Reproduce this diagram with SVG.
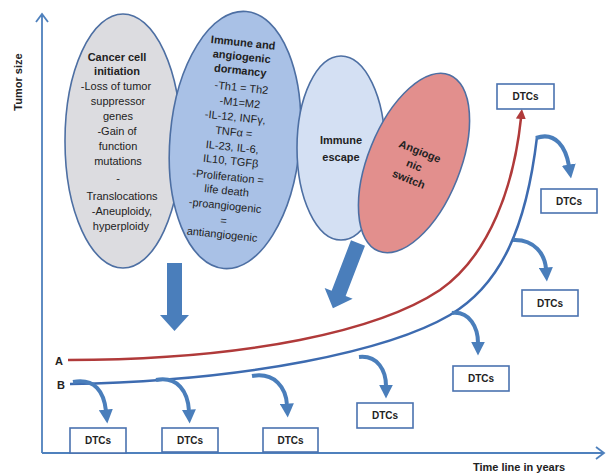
<svg xmlns="http://www.w3.org/2000/svg" width="608" height="474" viewBox="0 0 608 474">
<defs>
<style>
.t{font-family:"Liberation Sans",Arial,sans-serif;font-size:11px;fill:#222;text-anchor:middle}
.b{font-weight:bold}
.ell{stroke:#4d6fa3;stroke-width:1.6}
.box{fill:#fff;stroke:#4a72b0;stroke-width:1.6}
.bt{font-family:"Liberation Sans",Arial,sans-serif;font-size:10px;font-weight:bold;fill:#222;text-anchor:middle}
.dtc{fill:none;stroke:#4a7ebb;stroke-width:4}
.axis{fill:none;stroke:#4f81bd;stroke-width:1.8}
</style>
<marker id="ah" viewBox="0 0 10 10" refX="1" refY="5" markerWidth="3.5" markerHeight="3.5" orient="auto" markerUnits="strokeWidth">
<path d="M0,0 L10,5 L0,10 z" fill="#4a7ebb"/>
</marker>
<marker id="ahr" viewBox="0 0 10 10" refX="1" refY="5" markerWidth="4" markerHeight="4" orient="auto" markerUnits="strokeWidth">
<path d="M0,0 L10,5 L0,10 z" fill="#b03a3a"/>
</marker>
</defs>
<rect width="608" height="474" fill="#fff"/>

<g id="axes">
<path class="axis" d="M42,453 L42,14 M36,22 L42,14 L48,22"/>
<path class="axis" d="M42,453 L604,453 M596,447 L604,453 L596,459"/>
<text class="t b" transform="translate(22,82) rotate(-90)" font-size="11.5">Tumor size</text>
<text class="t b" x="519" y="471" font-size="13.5">Time line in years</text>
</g>

<g id="cancer-cell-initiation">
<ellipse class="ell" cx="123" cy="141" rx="58" ry="127" fill="#dcdce0"/>
<text class="t"><tspan class="b" x="117" y="61">Cancer cell</tspan><tspan class="b" x="117" y="75">initiation</tspan><tspan x="116" y="90">-Loss of tumor</tspan><tspan x="118" y="105">suppressor</tspan><tspan x="118" y="120">genes</tspan><tspan x="117" y="135">-Gain of</tspan><tspan x="118" y="150">function</tspan><tspan x="118" y="165">mutations</tspan><tspan x="118" y="182">-</tspan><tspan x="122" y="200">Translocations</tspan><tspan x="122" y="215">-Aneuploidy,</tspan><tspan x="121" y="230">hyperploidy</tspan></text>
</g>

<g id="dormancy">
<ellipse class="ell" cx="235" cy="140" rx="65" ry="129" fill="#a9c1e6" transform="rotate(5 235 140)"/>
<text class="t" transform="rotate(6 235 140)"><tspan class="b" x="233" y="46">Immune and</tspan><tspan class="b" x="233" y="60">angiogenic</tspan><tspan class="b" x="233" y="74">dormancy</tspan><tspan x="236" y="91">-Th1 = Th2</tspan><tspan x="236" y="106">-M1=M2</tspan><tspan x="233" y="121">-IL-12, INFγ,</tspan><tspan x="233" y="136">TNFα =</tspan><tspan x="233" y="151">IL-23, IL-6,</tspan><tspan x="233" y="165">IL10, TGFβ</tspan><tspan x="232" y="181">-Proliferation =</tspan><tspan x="232" y="195">life death</tspan><tspan x="232" y="210">-proangiogenic</tspan><tspan x="232" y="225">=</tspan><tspan x="232" y="239">antiangiogenic</tspan></text>
</g>

<g id="immune-escape">
<ellipse class="ell" cx="341" cy="148" rx="44" ry="92" fill="#d4e0f3"/>
<text class="t b"><tspan x="341" y="144">Immune</tspan><tspan x="341" y="161">escape</tspan></text>
</g>

<g id="angiogenic-switch">
<ellipse class="ell" cx="414" cy="163" rx="46" ry="95" fill="#e28f8d" transform="rotate(22 414 163)"/>
<text class="t b" transform="rotate(22 414 166)"><tspan x="414" y="154">Angioge</tspan><tspan x="414" y="169">nic</tspan><tspan x="414" y="184">switch</tspan></text>
</g>

<g id="block-arrows" fill="#4a7ebb">
<polygon points="167,263 182,263 182,315 189,315 174.5,331 160,315 167,315"/>
<polygon points="-7.5,0 7.5,0 7.5,54 15,54 0,70 -15,54 -7.5,54" transform="translate(358,243) rotate(21)"/>
</g>

<g id="curves">
<path d="M68,360 C 250,360 380,330 440,290 C 490,255 514,185 521,118" fill="none" stroke="#b03a3a" stroke-width="2.5" marker-end="url(#ahr)"/>
<path d="M70,384 C 250,381 390,350 450,315 C 500,285 526,230 537,137" fill="none" stroke="#3d6bb0" stroke-width="2.5"/>
<text class="t b" x="59" y="365" font-size="12.5">A</text>
<text class="t b" x="61" y="389" font-size="12.5">B</text>
</g>

<g id="connectors">
<path class="dtc" d="M73,382 C 95,378 104,392 106,411" marker-end="url(#ah)"/>
<path class="dtc" d="M156,380 C 178,376 188,392 189,411" marker-end="url(#ah)"/>
<path class="dtc" d="M252,376 C 275,372 286,388 287,405" marker-end="url(#ah)"/>
<path class="dtc" d="M359,357 C 378,355 386,371 386,386" marker-end="url(#ah)"/>
<path class="dtc" d="M452,313 C 470,311 478,328 478,343" marker-end="url(#ah)"/>
<path class="dtc" d="M513,240 C 535,239 545,255 546,269" marker-end="url(#ah)"/>
<path class="dtc" d="M536,138 C 556,131 566,148 569,166" marker-end="url(#ah)"/>
</g>

<g id="dtc-top"><rect class="box" x="497" y="84" width="57" height="25"/><text class="bt" x="525.5" y="100">DTCs</text></g>
<g id="dtc-r1"><rect class="box" x="541" y="189" width="56" height="24"/><text class="bt" x="569" y="205">DTCs</text></g>
<g id="dtc-r2"><rect class="box" x="522" y="290" width="56" height="26"/><text class="bt" x="550" y="307">DTCs</text></g>
<g id="dtc-r3"><rect class="box" x="453" y="366" width="56" height="25"/><text class="bt" x="481" y="382">DTCs</text></g>
<g id="dtc-r4"><rect class="box" x="357" y="403" width="56" height="25"/><text class="bt" x="385" y="419">DTCs</text></g>
<g id="dtc-b1"><rect class="box" x="70" y="428" width="56" height="25"/><text class="bt" x="98" y="444">DTCs</text></g>
<g id="dtc-b2"><rect class="box" x="162" y="428" width="56" height="24"/><text class="bt" x="190" y="444">DTCs</text></g>
<g id="dtc-b3"><rect class="box" x="263" y="428" width="55" height="24"/><text class="bt" x="290.5" y="444">DTCs</text></g>
</svg>
